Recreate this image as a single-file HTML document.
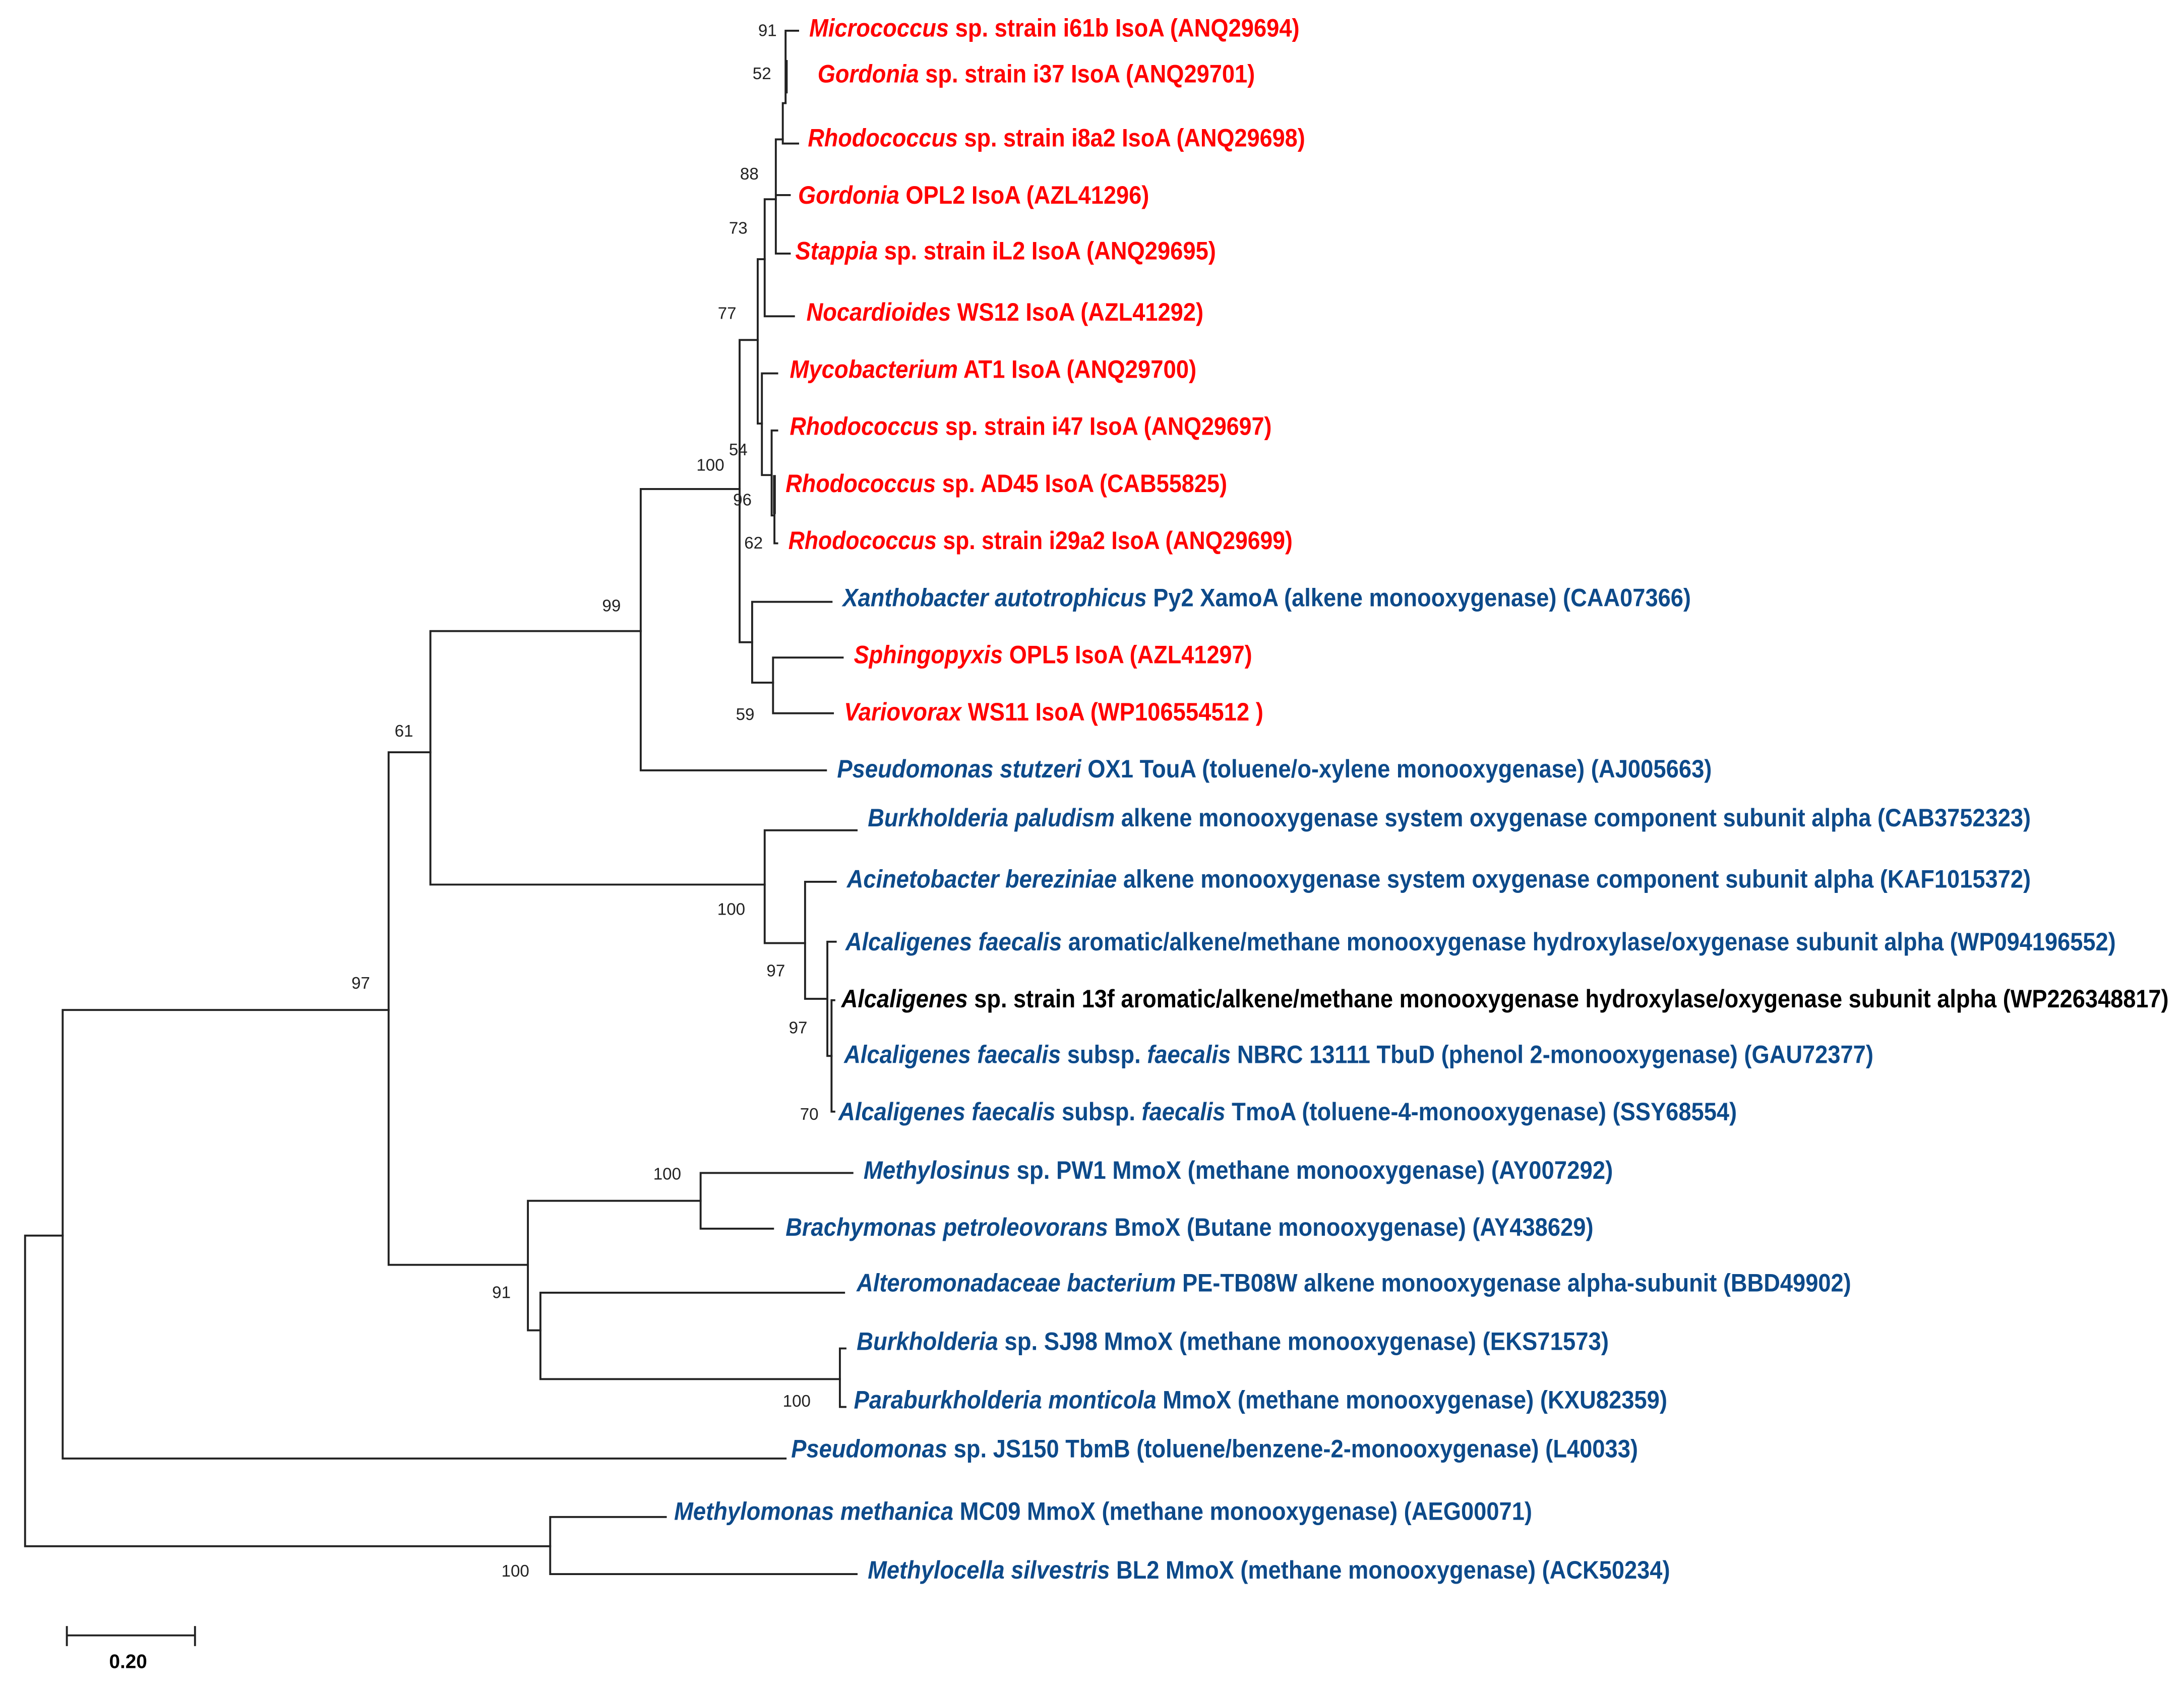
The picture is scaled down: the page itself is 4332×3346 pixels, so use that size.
<!DOCTYPE html>
<html><head><meta charset="utf-8"><style>
html,body{margin:0;padding:0;background:#fff;}
svg{display:block;}
.l{font-family:"Liberation Sans",sans-serif;font-size:18px;font-weight:bold;dominant-baseline:central;}
.r{fill:#ff0000;} .b{fill:#0d4a8a;} .k{fill:#000;}
.n{font-family:"Liberation Sans",sans-serif;font-size:12px;fill:#222;dominant-baseline:central;text-anchor:middle;}
</style></head><body>
<svg width="4332" height="3346" viewBox="0 0 1568 1211" xmlns="http://www.w3.org/2000/svg">
<rect width="1568" height="1211" fill="#fff"/>
<g fill="none" stroke="#222" stroke-width="1.4" stroke-linecap="square">
<path d="M18 887V1110M18 887H45M18 1110H395"/>
<path d="M45 725V1047M45 725H279M45 1047H564"/>
<path d="M395 1089V1130M395 1089H478M395 1130H615"/>
<path d="M279 540V908M279 540H309M279 908H379"/>
<path d="M309 453V635M309 453H460M309 635H549"/>
<path d="M460 351V553M460 351H531M460 553H593"/>
<path d="M531 244V461M531 244H544M531 461H540"/>
<path d="M544 186V304M544 186H549M544 304H547"/>
<path d="M549 143V227M549 143H557M549 227H570"/>
<path d="M557 100V182M557 100H562M557 140H567M557 182H567"/>
<path d="M562 74V103M562 74H564M562 103H573"/>
<path d="M564 22V74M564 22H573"/>
<path d="M564.5 44V66" stroke-width="2"/>
<path d="M547 268V341M547 268H558M547 341H554"/>
<path d="M554 309V370M554 309H558M554 370H556"/>
<path d="M556 348V390M556 390H558"/>
<path d="M556 342V368" stroke-width="2"/>
<path d="M540 432V490M540 432H597M540 490H555"/>
<path d="M555 472V512M555 472H605M555 512H598"/>
<path d="M549 596V677M549 596H615M549 677H578"/>
<path d="M578 633V717M578 633H600M578 717H594"/>
<path d="M594 676V758M594 676H600M594 758H597"/>
<path d="M597 718V798M597 718H599M597 798H599"/>
<path d="M379 862V955M379 862H503M379 955H388"/>
<path d="M503 842V882M503 842H612M503 882H555"/>
<path d="M388 928V990M388 928H606M388 990H603"/>
<path d="M603 968V1010M603 968H607M603 1010H607"/>
<path d="M48 1174H140M48 1168V1181M140 1168V1181"/>
</g>
<g class="n">
<text x="551" y="22">91</text><text x="547" y="53">52</text><text x="538" y="125">88</text>
<text x="530" y="164">73</text><text x="522" y="225">77</text><text x="510" y="334">100</text>
<text x="530" y="323">54</text><text x="533" y="359">96</text><text x="541" y="390">62</text>
<text x="439" y="435">99</text><text x="535" y="513">59</text><text x="290" y="525">61</text>
<text x="525" y="653">100</text><text x="557" y="697">97</text><text x="573" y="738">97</text>
<text x="581" y="800">70</text><text x="259" y="706">97</text><text x="479" y="843">100</text>
<text x="360" y="928">91</text><text x="572" y="1006">100</text><text x="370" y="1128">100</text>
<text x="92" y="1193" style="font-weight:bold;font-size:14px;fill:#000">0.20</text>
</g>
<g class="l">
<text class="r" x="581" y="20" textLength="352" lengthAdjust="spacingAndGlyphs"><tspan font-style="italic">Micrococcus</tspan> sp. strain i61b IsoA (ANQ29694)</text>
<text class="r" x="587" y="53" textLength="314" lengthAdjust="spacingAndGlyphs"><tspan font-style="italic">Gordonia</tspan> sp. strain i37 IsoA (ANQ29701)</text>
<text class="r" x="580" y="99" textLength="357" lengthAdjust="spacingAndGlyphs"><tspan font-style="italic">Rhodococcus</tspan> sp. strain i8a2 IsoA (ANQ29698)</text>
<text class="r" x="573" y="140" textLength="252" lengthAdjust="spacingAndGlyphs"><tspan font-style="italic">Gordonia</tspan> OPL2 IsoA (AZL41296)</text>
<text class="r" x="571" y="180" textLength="302" lengthAdjust="spacingAndGlyphs"><tspan font-style="italic">Stappia</tspan> sp. strain iL2 IsoA (ANQ29695)</text>
<text class="r" x="579" y="224" textLength="285" lengthAdjust="spacingAndGlyphs"><tspan font-style="italic">Nocardioides</tspan> WS12 IsoA (AZL41292)</text>
<text class="r" x="567" y="265" textLength="292" lengthAdjust="spacingAndGlyphs"><tspan font-style="italic">Mycobacterium</tspan> AT1 IsoA (ANQ29700)</text>
<text class="r" x="567" y="306" textLength="346" lengthAdjust="spacingAndGlyphs"><tspan font-style="italic">Rhodococcus</tspan> sp. strain i47 IsoA (ANQ29697)</text>
<text class="r" x="564" y="347" textLength="317" lengthAdjust="spacingAndGlyphs"><tspan font-style="italic">Rhodococcus</tspan> sp. AD45 IsoA (CAB55825)</text>
<text class="r" x="566" y="388" textLength="362" lengthAdjust="spacingAndGlyphs"><tspan font-style="italic">Rhodococcus</tspan> sp. strain i29a2 IsoA (ANQ29699)</text>
<text class="b" x="605" y="429" textLength="609" lengthAdjust="spacingAndGlyphs"><tspan font-style="italic">Xanthobacter autotrophicus</tspan> Py2 XamoA (alkene monooxygenase) (CAA07366)</text>
<text class="r" x="613" y="470" textLength="286" lengthAdjust="spacingAndGlyphs"><tspan font-style="italic">Sphingopyxis</tspan> OPL5 IsoA (AZL41297)</text>
<text class="r" x="606" y="511" textLength="301" lengthAdjust="spacingAndGlyphs"><tspan font-style="italic">Variovorax</tspan> WS11 IsoA (WP106554512 )</text>
<text class="b" x="601" y="552" textLength="628" lengthAdjust="spacingAndGlyphs"><tspan font-style="italic">Pseudomonas stutzeri</tspan> OX1 TouA (toluene/o-xylene monooxygenase) (AJ005663)</text>
<text class="b" x="623" y="587" textLength="835" lengthAdjust="spacingAndGlyphs"><tspan font-style="italic">Burkholderia paludism</tspan> alkene monooxygenase system oxygenase component subunit alpha (CAB3752323)</text>
<text class="b" x="608" y="631" textLength="850" lengthAdjust="spacingAndGlyphs"><tspan font-style="italic">Acinetobacter bereziniae</tspan> alkene monooxygenase system oxygenase component subunit alpha (KAF1015372)</text>
<text class="b" x="607" y="676" textLength="912" lengthAdjust="spacingAndGlyphs"><tspan font-style="italic">Alcaligenes faecalis</tspan> aromatic/alkene/methane monooxygenase hydroxylase/oxygenase subunit alpha (WP094196552)</text>
<text class="k" x="604" y="717" textLength="953" lengthAdjust="spacingAndGlyphs"><tspan font-style="italic">Alcaligenes</tspan> sp. strain 13f aromatic/alkene/methane monooxygenase hydroxylase/oxygenase subunit alpha (WP226348817)</text>
<text class="b" x="606" y="757" textLength="739" lengthAdjust="spacingAndGlyphs"><tspan font-style="italic">Alcaligenes faecalis</tspan> subsp. <tspan font-style="italic">faecalis</tspan> NBRC 13111 TbuD (phenol 2-monooxygenase) (GAU72377)</text>
<text class="b" x="602" y="798" textLength="645" lengthAdjust="spacingAndGlyphs"><tspan font-style="italic">Alcaligenes faecalis</tspan> subsp. <tspan font-style="italic">faecalis</tspan> TmoA (toluene-4-monooxygenase) (SSY68554)</text>
<text class="b" x="620" y="840" textLength="538" lengthAdjust="spacingAndGlyphs"><tspan font-style="italic">Methylosinus</tspan> sp. PW1 MmoX (methane monooxygenase) (AY007292)</text>
<text class="b" x="564" y="881" textLength="580" lengthAdjust="spacingAndGlyphs"><tspan font-style="italic">Brachymonas petroleovorans</tspan> BmoX (Butane monooxygenase) (AY438629)</text>
<text class="b" x="615" y="921" textLength="714" lengthAdjust="spacingAndGlyphs"><tspan font-style="italic">Alteromonadaceae bacterium</tspan> PE-TB08W alkene monooxygenase alpha-subunit (BBD49902)</text>
<text class="b" x="615" y="963" textLength="540" lengthAdjust="spacingAndGlyphs"><tspan font-style="italic">Burkholderia</tspan> sp. SJ98 MmoX (methane monooxygenase) (EKS71573)</text>
<text class="b" x="613" y="1005" textLength="584" lengthAdjust="spacingAndGlyphs"><tspan font-style="italic">Paraburkholderia monticola</tspan> MmoX (methane monooxygenase) (KXU82359)</text>
<text class="b" x="568" y="1040" textLength="608" lengthAdjust="spacingAndGlyphs"><tspan font-style="italic">Pseudomonas</tspan> sp. JS150 TbmB (toluene/benzene-2-monooxygenase) (L40033)</text>
<text class="b" x="484" y="1085" textLength="616" lengthAdjust="spacingAndGlyphs"><tspan font-style="italic">Methylomonas methanica</tspan> MC09 MmoX (methane monooxygenase) (AEG00071)</text>
<text class="b" x="623" y="1127" textLength="576" lengthAdjust="spacingAndGlyphs"><tspan font-style="italic">Methylocella silvestris</tspan> BL2 MmoX (methane monooxygenase) (ACK50234)</text>
</g>
</svg>
</body></html>
